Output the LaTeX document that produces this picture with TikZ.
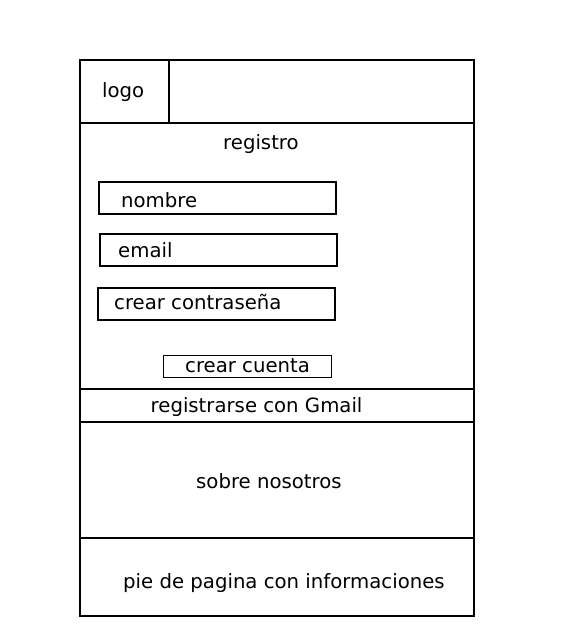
\documentclass[tikz,border=0pt]{standalone}
\usepackage{fontspec}
\setmainfont{DejaVu Sans}
\begin{document}
\begin{tikzpicture}[x=1pt, y=-1pt, line width=1.4pt,
    label/.style={anchor=base west, inner sep=0pt, font=\fontsize{19.7}{24}\selectfont},
    field/.style={draw, line width=1.3pt},
    button/.style={draw, line width=0.9pt}]

  \useasboundingbox (0,0) rectangle (561,632);

  % page frame
  \draw (80,60) rectangle (474,616);
  \draw (169,60) -- (169,123);
  \draw (80,123) -- (474,123);
  \draw (80,389) -- (474,389);
  \draw (80,422) -- (474,422);
  \draw (80,538) -- (474,538);

  % form fields
  \draw[field] (99,182) rectangle (336,214);
  \draw[field] (100,234) rectangle (337,266);
  \draw[field] (98,288) rectangle (335,320);
  \draw[button] (163,355) rectangle (331,377);

  \node[label] (logo)     at (101.5,97)  {logo};
  \node[label] (registro) at (222.5,149) {registro};
  \node[label] (nombre)   at (120.5,207) {nombre};
  \node[label] (email)    at (117.5,257) {email};
  \node[label] (clave)    at (113.5,309) {crear contraseña};
  \node[label] (cuenta)   at (184.5,372) {crear cuenta};
  \node[label] (gmail)    at (150,412)   {registrarse con Gmail};
  \node[label] (nosotros) at (195.5,488) {sobre nosotros};
  \node[label] (pie)      at (122.5,588) {pie de pagina con informaciones};

\end{tikzpicture}
\end{document}
